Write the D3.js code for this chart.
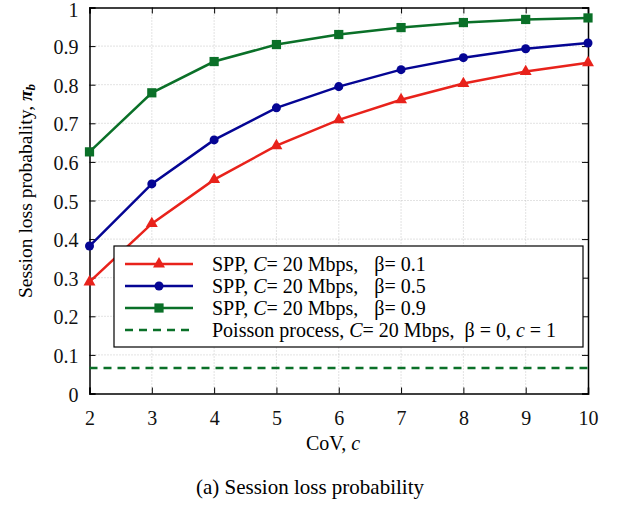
<!DOCTYPE html>
<html>
<head>
<meta charset="utf-8">
<script src="https://cdn.jsdelivr.net/npm/d3@7"></script>
<style>
  body { margin: 0; background: #fff; }
  text { font-family: "Liberation Serif", "Times New Roman", serif; }
</style>
</head>
<body>
<svg width="619" height="505"></svg>
<script>
// data
const cov = [2, 3, 4, 5, 6, 7, 8, 9, 10]
const beta01 = [0.289, 0.44, 0.554, 0.642, 0.709, 0.761, 0.803, 0.834, 0.857]
const beta05 = [0.382, 0.543, 0.657, 0.740, 0.795, 0.839, 0.870, 0.893, 0.908]
const beta09 = [0.626, 0.779, 0.860, 0.904, 0.930, 0.948, 0.961, 0.969, 0.973]
const poisson = 0.066
const yTicks = [0, 0.1, 0.2, 0.3, 0.4, 0.5, 0.6, 0.7, 0.8, 0.9, 1]
const yTickLabels = ["0", "0.1", "0.2", "0.3", "0.4", "0.5", "0.6", "0.7", "0.8", "0.9", "1"]
const betaLabels = ["0.1", "0.5", "0.9"]

const margin = { top: 7.5, right: 31, bottom: 111.5, left: 89.5 }
const width = 619, height = 505

const x = d3.scaleLinear()
  .domain([2, 10])
  .range([margin.left, width - margin.right])
const y = d3.scaleLinear()
  .domain([0, 1])
  .range([height - margin.bottom, margin.top])

const svg = d3.select("svg")

// grid
const grid = svg.append("g")
  .attr("stroke", "#b8b8b8")
  .attr("stroke-width", 0.8)
  .attr("stroke-dasharray", "1,2")
grid.selectAll(".gx")
  .data(cov.slice(1, -1))
  .enter().append("line")
    .attr("x1", d => x(d)).attr("x2", d => x(d))
    .attr("y1", y(0)).attr("y2", y(1))
grid.selectAll(".gy")
  .data(yTicks.slice(1, -1))
  .enter().append("line")
    .attr("x1", x(2)).attr("x2", x(10))
    .attr("y1", d => y(d)).attr("y2", d => y(d))

// axes with inner ticks
const fmtY = (d, i) => yTickLabels[i]
svg.append("g")
    .attr("transform", `translate(${margin.left},0)`)
    .call(d3.axisLeft(y).tickValues(yTicks).tickFormat(fmtY).tickSize(-6).tickPadding(11))
    .call(g => g.selectAll("text").style("font-size", "20px").attr("fill", "#111").attr("dy", "0.38em"))
    .call(g => g.select(".tick:last-of-type text").attr("dy", "0.45em"))
svg.append("g")
    .attr("transform", `translate(${width - margin.right},0)`)
    .call(d3.axisRight(y).tickValues(yTicks).tickSize(-6).tickFormat(""))
svg.append("g")
    .attr("transform", `translate(0,${height - margin.bottom})`)
    .call(d3.axisBottom(x).tickValues(cov).tickFormat(d3.format("d")).tickSize(-6).tickPadding(17))
    .call(g => g.selectAll("text").style("font-size", "20px").attr("fill", "#111"))
svg.append("g")
    .attr("transform", `translate(0,${margin.top})`)
    .call(d3.axisTop(x).tickValues(cov).tickSize(-6).tickFormat(""))
svg.selectAll(".domain").attr("stroke", "#000").attr("stroke-width", 1.5)
svg.selectAll(".tick line").attr("stroke", "#000").attr("stroke-width", 1)

// series
const series = [
  { values: beta01, color: "#e8221b", marker: d3.symbolTriangle, size: 62 },
  { values: beta05, color: "#050594", marker: d3.symbolCircle, size: 64 },
  { values: beta09, color: "#0a7028", marker: d3.symbolSquare, size: 85 }
]
const line = d3.line()
  .x((d, i) => x(cov[i]))
  .y(d => y(d))

svg.append("line")
    .attr("x1", x(2)).attr("x2", x(10))
    .attr("y1", y(poisson)).attr("y2", y(poisson))
    .attr("stroke", "#0a7028")
    .attr("stroke-width", 2.5)
    .attr("stroke-dasharray", "8,6")

series.forEach(s => {
  svg.append("path")
      .datum(s.values)
      .attr("fill", "none")
      .attr("stroke", s.color)
      .attr("stroke-width", 2.5)
      .attr("d", line)
  svg.append("g")
    .selectAll("path")
    .data(s.values)
    .enter().append("path")
      .attr("transform", (d, i) => `translate(${x(cov[i])},${y(d)})`)
      .attr("d", d3.symbol(s.marker, s.size))
      .attr("fill", s.color)
})

// legend
const lg = svg.append("g")
lg.append("rect")
    .attr("x", 114).attr("y", 246)
    .attr("width", 469).attr("height", 101)
    .attr("fill", "#fff")
    .attr("stroke", "#000")
    .attr("stroke-width", 1.2)
const rows = [264, 286, 308, 330]
series.forEach((s, i) => {
  lg.append("line")
      .attr("x1", 125).attr("x2", 193)
      .attr("y1", rows[i]).attr("y2", rows[i])
      .attr("stroke", s.color).attr("stroke-width", 2.5)
  lg.append("path")
      .attr("transform", `translate(159,${rows[i]})`)
      .attr("d", d3.symbol(s.marker, s.size))
      .attr("fill", s.color)
  const t = lg.append("text")
      .attr("x", 212).attr("y", rows[i] + 7)
      .style("font-size", "20px")
  t.append("tspan").text("SPP, ")
  t.append("tspan").attr("font-style", "italic").text("C")
  t.append("tspan").text("= 20 Mbps,")
  t.append("tspan").attr("dx", 16).text("β")
  t.append("tspan").text("= " + betaLabels[i])
})
lg.append("line")
    .attr("x1", 125).attr("x2", 193)
    .attr("y1", rows[3]).attr("y2", rows[3])
    .attr("stroke", "#0a7028").attr("stroke-width", 2.5)
    .attr("stroke-dasharray", "8,6")
const tp = lg.append("text")
    .attr("x", 212).attr("y", rows[3] + 7)
    .style("font-size", "20px")
tp.append("tspan").text("Poisson process, ")
tp.append("tspan").attr("font-style", "italic").text("C")
tp.append("tspan").text("= 20 Mbps,")
tp.append("tspan").attr("dx", 10).text("β")
tp.append("tspan").text(" = 0, ")
tp.append("tspan").attr("font-style", "italic").text("c")
tp.append("tspan").text(" = 1")

// axis titles
const xt = svg.append("text")
    .attr("x", 333).attr("y", 450)
    .attr("text-anchor", "middle")
    .style("font-size", "20px")
xt.append("tspan").text("CoV, ")
xt.append("tspan").attr("font-style", "italic").text("c")

const yt = svg.append("text")
    .attr("transform", "translate(32,191) rotate(-90)")
    .attr("text-anchor", "middle")
    .style("font-size", "19.5px")
yt.append("tspan").text("Session loss probabality, ")
yt.append("tspan").attr("font-weight", "bold").attr("font-style", "italic").text("π")
yt.append("tspan").attr("font-weight", "bold").attr("font-style", "italic")
    .attr("dy", 3).style("font-size", "13px").text("b")

svg.append("text")
    .attr("x", 310).attr("y", 494)
    .attr("text-anchor", "middle")
    .style("font-size", "21px")
    .text("(a)  Session loss probability")
</script>
</body>
</html>
